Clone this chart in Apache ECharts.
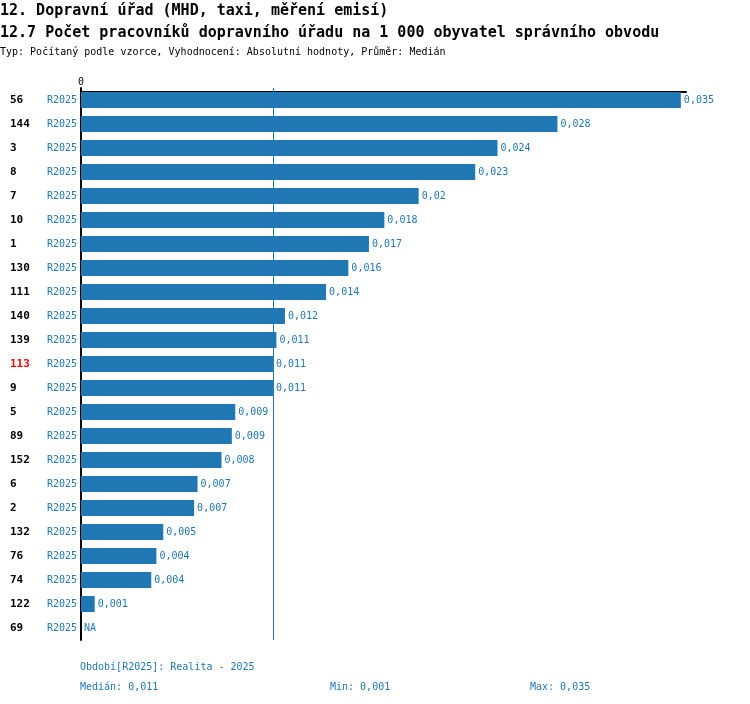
<!DOCTYPE html>
<html>
<head>
<meta charset="utf-8">
<script src="https://cdn.jsdelivr.net/npm/echarts@6/dist/echarts.min.js"></script>
<style>
  html, body { margin: 0; padding: 0; background: #fff; }
  #chart { width: 750px; height: 704px; }
</style>
</head>
<body>
<div id="chart"></div>
<script>
// 12.7 Počet pracovníků dopravního úřadu na 1 000 obyvatel

var ids = ['56', '144', '3', '8', '7', '10', '1', '130', '111', '140', '139', '113', '9',
  '5', '89', '152', '6', '2', '132', '76', '74', '122', '69'];
var periods = ['R2025', 'R2025', 'R2025', 'R2025', 'R2025', 'R2025', 'R2025', 'R2025',
  'R2025', 'R2025', 'R2025', 'R2025', 'R2025', 'R2025', 'R2025', 'R2025', 'R2025',
  'R2025', 'R2025', 'R2025', 'R2025', 'R2025', 'R2025'];
var values = [0.035, 0.0278, 0.0243, 0.0230, 0.0197, 0.0177, 0.0168, 0.0156, 0.0143,
  0.0119, 0.0114, 0.0112, 0.0112, 0.0090, 0.0088, 0.0082, 0.0068, 0.0066, 0.0048,
  0.0044, 0.0041, 0.0008, null];
var highlightId = '113';
var medianValue = 0.0112;

var blue = '#1f77b4';
var font = 'DejaVu Sans Mono';

function fmt(v) {
  return String(+v.toFixed(3)).replace('.', ',');
}

var known = values.filter(function (v) { return v != null; });
var minValue = Math.min.apply(null, known);
var maxValue = Math.max.apply(null, known);

var seriesData = values.map(function (v) {
  if (v == null) return { value: 0, label: { formatter: 'NA' } };
  return v;
});

function txt(text, left, top, size, color, weight) {
  return {
    text: text, left: left, top: top, padding: 0,
    textStyle: { fontFamily: font, fontSize: size, fontWeight: weight || 'normal', color: color }
  };
}

var myChart = echarts.init(document.getElementById('chart'));
var option = {
  animation: false,
  title: [
    txt('12. Dopravní úřad (MHD, taxi, měření emisí)', 0, 4, 15, '#000', 'bold'),
    txt('12.7 Počet pracovníků dopravního úřadu na 1 000 obyvatel správního obvodu', 0, 26, 15, '#000', 'bold'),
    txt('Typ: Počítaný podle vzorce, Vyhodnocení: Absolutní hodnoty, Průměr: Medián', 0, 47, 10, '#000'),
    txt('Období[R2025]: Realita - 2025', 80, 662, 10, blue),
    txt('Medián: ' + fmt(medianValue), 80, 682, 10, blue),
    txt('Min: ' + fmt(minValue), 330, 682, 10, blue),
    txt('Max: ' + fmt(maxValue), 530, 682, 10, blue)
  ],
  grid: { left: 81, right: 64, top: 88, bottom: 64, containLabel: false },
  xAxis: {
    type: 'value',
    position: 'top',
    offset: -4,
    min: 0,
    max: 0.0353,
    splitLine: { show: false },
    axisTick: { show: false },
    axisLine: { show: true, lineStyle: { color: '#000', width: 2 } },
    axisLabel: {
      fontFamily: font, fontSize: 10, color: '#000', margin: 5,
      formatter: function (v) { return v === 0 ? '0' : ''; }
    }
  },
  yAxis: {
    type: 'category',
    inverse: true,
    data: ids,
    axisTick: { show: false },
    axisLine: { show: true, lineStyle: { color: '#000', width: 2 } },
    axisLabel: {
      align: 'left',
      margin: 71,
      formatter: function (v, i) {
        var key = v === highlightId ? 'idRed' : 'id';
        return '{' + key + '|' + v + '}{per|' + periods[i] + '}';
      },
      rich: {
        id: { fontFamily: font, fontSize: 11, fontWeight: 'bold', color: '#000', width: 37 },
        idRed: { fontFamily: font, fontSize: 11, fontWeight: 'bold', color: '#ff0000', width: 37 },
        per: { fontFamily: font, fontSize: 10, color: blue }
      }
    }
  },
  series: [{
    type: 'bar',
    data: seriesData,
    barWidth: 16,
    itemStyle: { color: blue },
    label: {
      show: true,
      position: 'right',
      distance: 3,
      fontFamily: font,
      fontSize: 10,
      color: blue,
      formatter: function (p) { return fmt(p.value); }
    },
    markLine: {
      silent: true,
      symbol: 'none',
      precision: 5,
      label: { show: false },
      lineStyle: { color: blue, width: 1, type: 'solid' },
      data: [{ xAxis: medianValue }]
    }
  }]
};
myChart.setOption(option);
</script>
</body>
</html>
